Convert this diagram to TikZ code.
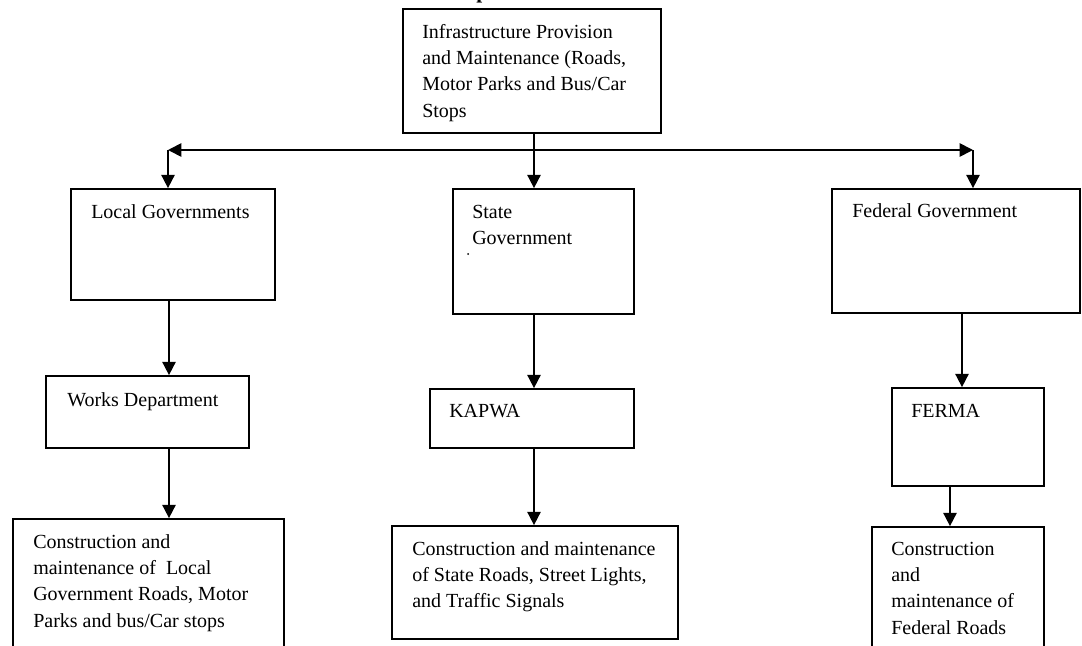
\documentclass[tikz,border=0pt]{standalone}
\usepackage{fontspec}
\setmainfont{Liberation Serif}
\usetikzlibrary{arrows.meta}
\tikzset{
  box/.style={draw=black, line width=1.3pt, rectangle, inner sep=0pt, fill=none},
  txt/.style={anchor=north west, inner sep=0pt, align=left,
    font=\fontsize{15pt}{19.7pt}\selectfont},
  arr/.style={line width=1.3pt, -{Triangle[length=10pt,width=10pt]}},
  ln/.style={line width=1.3pt}
}
\newcommand{\fs}{\rule{0pt}{11pt}}
\begin{document}
\begin{tikzpicture}[x=0.75pt,y=-0.75pt]
\useasboundingbox (0,0) rectangle (1082,646);
\fill[white] (0,0) rectangle (1082,646);

% title fragment cut off by the page edge
\node[anchor=base west, inner sep=0pt, font=\fontsize{16pt}{19pt}\selectfont\bfseries] (title) at (476,-2) {p};

% boxes
\node[box, minimum width=258*0.75pt, minimum height=124*0.75pt] (top) at (532,71) {};
\node[box, minimum width=204*0.75pt, minimum height=111*0.75pt] (local) at (173,244.5) {};
\node[box, minimum width=181*0.75pt, minimum height=125*0.75pt] (state) at (543.5,251.5) {};
\node[box, minimum width=248*0.75pt, minimum height=124*0.75pt] (fed) at (956,251) {};
\node[box, minimum width=203*0.75pt, minimum height=72*0.75pt] (works) at (147.5,412) {};
\node[box, minimum width=204*0.75pt, minimum height=59*0.75pt] (kapwa) at (532,418.5) {};
\node[box, minimum width=152*0.75pt, minimum height=98*0.75pt] (ferma) at (968,437) {};
\node[box, minimum width=271*0.75pt, minimum height=141*0.75pt] (botL) at (148.5,589.5) {};
\node[box, minimum width=286*0.75pt, minimum height=113*0.75pt] (botC) at (535,582.5) {};
\node[box, minimum width=172*0.75pt, minimum height=133*0.75pt] (botR) at (958,593.5) {};

% texts (baseline = top + 14.67px)
\node[txt] (ttop) at (422,23.3) {\fs Infrastructure Provision\\and Maintenance (Roads,\\Motor Parks and Bus/Car\\Stops};
\node[txt] (tlocal) at (91,203.3) {\fs Local Governments};
\node[txt] (tstate) at (472,203.3) {\fs State\\Government};
\fill (468,254) circle (1);
\node[txt] (tfed) at (852,202.3) {\fs Federal Government};
\node[txt] (tworks) at (67,391.3) {\fs Works Department};
\node[txt] (tkapwa) at (449,402.3) {\fs KAPWA};
\node[txt] (tferma) at (911,402.3) {\fs FERMA};
\node[txt] (tbotL) at (33,533.3) {\fs Construction and\\maintenance of~ Local\\Government Roads, Motor\\Parks and bus/Car stops};
\node[txt] (tbotC) at (412,540.3) {\fs Construction and maintenance\\of State Roads, Street Lights,\\and Traffic Signals};
\node[txt] (tbotR) at (891,540.3) {\fs Construction\\and\\maintenance of\\Federal Roads};

% junction coordinates
\coordinate (jc) at (534,150);
\coordinate (jl) at (168,150);
\coordinate (jr) at (973,150);
\coordinate (xl) at (169,0);
\coordinate (xf) at (962,0);
\coordinate (xr) at (950,0);

% connectors
\draw[arr] (top.south -| jc) -- (jc |- state.north);
\draw[arr] (jc) -- (jl);
\draw[arr] (jc) -- (jr);
\draw[arr] (jl) -- (jl |- local.north);
\draw[arr] (jr) -- (jr |- fed.north);
\draw[arr] (local.south -| xl) -- (xl |- works.north);
\draw[arr] (works.south -| xl) -- (xl |- botL.north);
\draw[arr] (state.south -| jc) -- (jc |- kapwa.north);
\draw[arr] (kapwa.south -| jc) -- (jc |- botC.north);
\draw[arr] (fed.south -| xf) -- (xf |- ferma.north);
\draw[arr] (ferma.south -| xr) -- (xr |- botR.north);
\end{tikzpicture}
\end{document}
